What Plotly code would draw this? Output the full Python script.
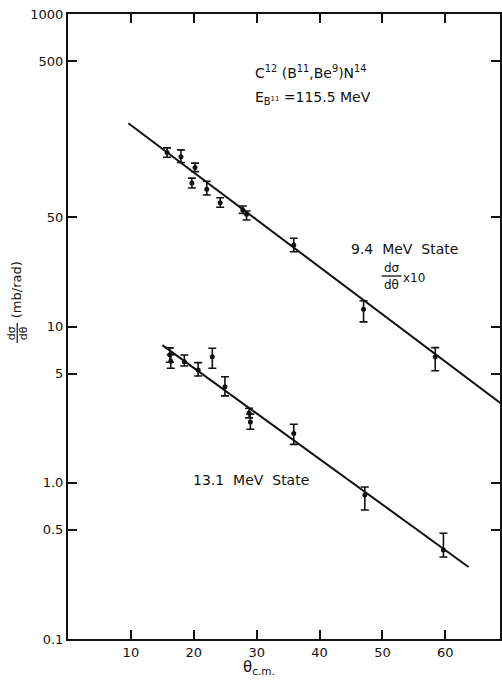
import plotly.graph_objects as go

# 9.4 MeV state (cross section x10): angle, value, upper and lower error limits
theta_94 = [15.75, 17.96, 20.2, 19.7, 22.07, 24.2, 27.8, 28.4, 35.9, 47.0, 58.4]
sigma_94 = [130, 122, 104, 83, 75.5, 62, 55.7, 52.2, 33.2, 12.9, 6.41]
hi_94 = [139, 135, 111, 89, 85, 66.7, 59, 54.8, 36.7, 14.6, 7.32]
lo_94 = [121, 112, 98, 77, 69.5, 58, 53, 48, 30.1, 10.7, 5.21]

# 13.1 MeV state
theta_131 = [16.2, 16.35, 18.5, 20.7, 22.95, 24.96, 28.8, 29.0, 35.9, 47.2, 59.7]
sigma_131 = [6.6, 6.0, 5.95, 5.27, 6.41, 4.12, 2.8, 2.45, 2.07, 0.835, 0.371]
hi_131 = [7.3, 6.6, 6.57, 5.87, 7.25, 4.77, 3.0, 2.75, 2.37, 0.94, 0.475]
lo_131 = [5.9, 5.4, 5.59, 4.82, 5.40, 3.60, 2.6, 2.2, 1.76, 0.67, 0.335]

# exponential fits (end points of straight lines on the log scale)
fit_94_theta = [9.6, 70.0]
fit_94_sigma = [200.0, 2.97]
fit_131_theta = [15.0, 63.7]
fit_131_sigma = [7.6, 0.289]

x_ticks = [10, 20, 30, 40, 50, 60]
y_ticks = [0.1, 0.5, 1, 5, 10, 50, 500, 1000]
y_tick_text = ["0.1", "0.5", "1.0", "5", "10", "50", "500", "1000"]

FONT = "DejaVu Sans"
INK = "#111111"

W, H = 502, 680
L, R, T, B = 68, 0, 14, 41
PW, PH = W - L - R, H - T - B


def fx(px):
    return (px - L) / PW


def fy(py):
    return (H - B - py) / PH


fig = go.Figure()

for th, sg in ((fit_94_theta, fit_94_sigma), (fit_131_theta, fit_131_sigma)):
    fig.add_trace(go.Scatter(x=th, y=sg, mode="lines",
                             line=dict(color=INK, width=2), hoverinfo="skip"))

for th, sg, hi, lo in ((theta_94, sigma_94, hi_94, lo_94),
                       (theta_131, sigma_131, hi_131, lo_131)):
    fig.add_trace(go.Scatter(
        x=th, y=sg, mode="markers",
        marker=dict(color=INK, size=5),
        error_y=dict(type="data", symmetric=False,
                     array=[h - s for h, s in zip(hi, sg)],
                     arrayminus=[s - l for s, l in zip(sg, lo)],
                     color=INK, thickness=1.6, width=4),
    ))

ann = []


def text(px, py, s, size=14, xanchor="left", angle=0):
    ann.append(dict(x=fx(px), y=fy(py), xref="paper", yref="paper", text=s,
                    showarrow=False, xanchor=xanchor, yanchor="middle",
                    textangle=angle, font=dict(family=FONT, size=size, color=INK)))


text(254, 72, "C<sup>12</sup> (B<sup>11</sup>,Be<sup>9</sup>)N<sup>14</sup>", 14)
text(254, 98, "E<sub>B<sup>11</sup></sub> =115.5 MeV", 14)
text(350, 249, "9.4  MeV  State", 14)
text(393, 268, "dσ", 12, "center")
text(393, 285, "dθ", 12, "center")
text(403, 278, "x10", 12)
text(192, 480, "13.1  MeV  State", 14)
text(260, 667, "θ<sub>c.m.</sub>", 15, "center")
text(16, 290, "(mb/rad)", 13, "center", -90)
text(11, 333, "dσ", 11, "center", -90)
text(23, 333, "dθ", 11, "center", -90)

shapes = [
    dict(type="line", xref="paper", yref="paper", x0=fx(383), x1=fx(403),
         y0=fy(276), y1=fy(276), line=dict(color=INK, width=1.3)),
    dict(type="line", xref="paper", yref="paper", x0=fx(17), x1=fx(17),
         y0=fy(323), y1=fy(343), line=dict(color=INK, width=1.2)),
]

axis_common = dict(showline=True, linecolor=INK, linewidth=2, mirror="ticks",
                   ticks="inside", ticklen=9, tickwidth=1.8, tickcolor=INK,
                   showgrid=False, zeroline=False,
                   tickfont=dict(family=FONT, size=13, color=INK))

fig.update_layout(
    width=W, height=H,
    margin=dict(l=L, r=R, t=T, b=B),
    paper_bgcolor="white", plot_bgcolor="white",
    showlegend=False,
    xaxis=dict(range=[0, 68.7], tickvals=x_ticks, **axis_common),
    yaxis=dict(type="log", range=[-1, 3], tickvals=y_ticks,
               ticktext=y_tick_text, **axis_common),
    annotations=ann, shapes=shapes,
)

fig.write_html("out.html")
